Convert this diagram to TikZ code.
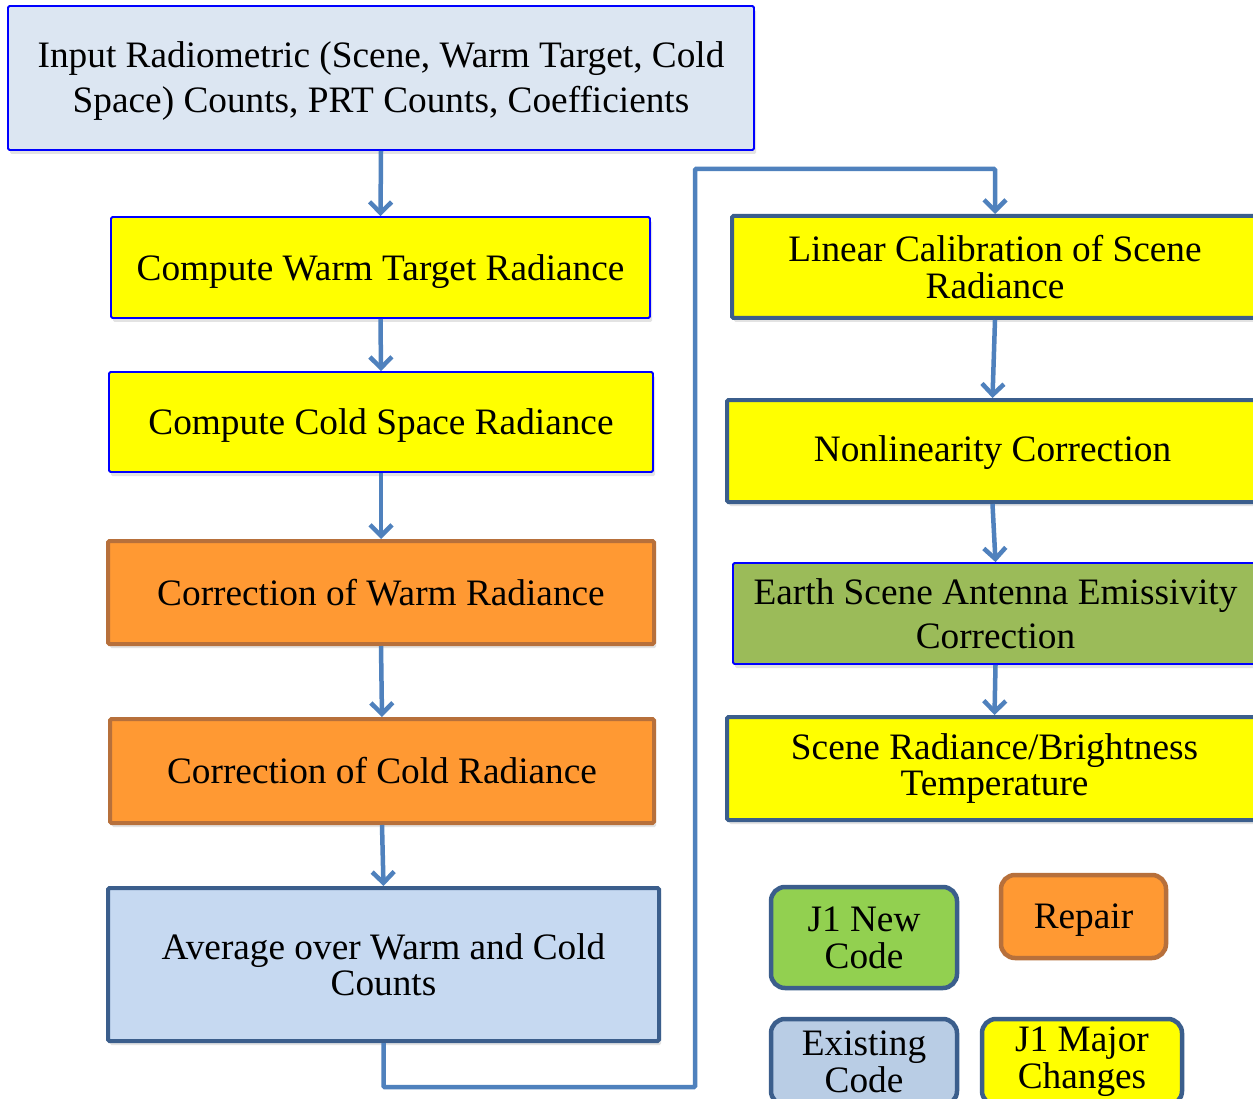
\documentclass[tikz,border=0pt]{standalone}
\usepackage{fontspec}
\setmainfont{Liberation Serif}
\usetikzlibrary{arrows.meta,shadows}
\definecolor{inblue}{HTML}{DCE6F2}
\definecolor{yel}{HTML}{FFFF00}
\definecolor{org}{HTML}{FF9933}
\definecolor{orgb}{HTML}{B7703B}
\definecolor{avgf}{HTML}{C6D9F1}
\definecolor{darkb}{HTML}{3B5E8C}
\definecolor{earthg}{HTML}{9BBB59}
\definecolor{legg}{HTML}{92D050}
\definecolor{exf}{HTML}{B9CDE5}
\definecolor{arr}{HTML}{4F81BD}
\newcommand{\lowr}[1]{\raisebox{-4pt}[\height][\depth]{#1}}
\tikzset{
  box/.style={rectangle, rounded corners=1.5pt, align=center, inner sep=0pt,
    font=\fontsize{37.3}{36.5}\selectfont,
    drop shadow={shadow xshift=2pt, shadow yshift=-4pt, opacity=0.22}},
  thinblue/.style={box, draw=blue, line width=1.8pt},
  thickdark/.style={box, draw=darkb, line width=4pt},
  thickorg/.style={box, draw=orgb, line width=4pt, fill=org},
  legbox/.style={rectangle, rounded corners=14pt, align=center, inner sep=0pt,
    font=\fontsize{37.3}{37}\selectfont, line width=4.5pt},
  flow/.style={draw=arr, line width=4.5pt, -{Straight Barb[length=11pt,width=22pt]}},
}
\begin{document}
\begin{tikzpicture}[x=1pt,y=-1pt]
\useasboundingbox (0,0) rectangle (1253,1099);
\clip (0,0) rectangle (1253,1099);
\fill[white] (0,0) rectangle (1253,1099);

% left column
\node[thinblue, fill=inblue, minimum width=746pt, minimum height=144pt,
  font=\fontsize{37.3}{45}\selectfont] (in) at (381,78)
  {\rule{0pt}{32pt}Input Radiometric (Scene, Warm Target, Cold\\Space) Counts, PRT Counts, Coefficients};
\node[thinblue, fill=yel, minimum width=539pt, minimum height=101pt] (cw) at (380.5,267.5)
  {\lowr{Compute Warm Target Radiance}};
\node[thinblue, fill=yel, minimum width=544pt, minimum height=100pt] (cc) at (381,422)
  {\lowr{Compute Cold Space Radiance}};
\node[thickorg, minimum width=546pt, minimum height=103pt] (corw) at (381,592.5)
  {Correction of Warm Radiance};
\node[thickorg, minimum width=544pt, minimum height=104pt] (corc) at (382,771)
  {Correction of Cold Radiance};
\node[thickdark, fill=avgf, minimum width=551pt, minimum height=153pt] (avg) at (383.5,964.5)
  {Average over Warm and Cold\\Counts};

% right column
\node[thickdark, fill=yel, minimum width=526pt, minimum height=102pt] (lin) at (995,267)
  {Linear Calibration of Scene\\Radiance};
\node[thickdark, fill=yel, minimum width=531pt, minimum height=102pt] (non) at (992.5,451)
  {\raisebox{-2pt}[\height][\depth]{Nonlinearity Correction}};
\node[thinblue, fill=earthg, minimum width=525pt, minimum height=101pt,
  font=\fontsize{37.3}{44}\selectfont] (ear) at (995.5,613.5)
  {Earth Scene Antenna Emissivity\\Correction};
\node[thickdark, fill=yel, minimum width=535pt, minimum height=103pt] (srb) at (994.5,768.5)
  {Scene Radiance/Brightness\\Temperature};

% legend
\node[legbox, draw=darkb, fill=legg, minimum width=186pt, minimum height=101pt] (l1) at (864,937.5)
  {J1 New\\Code};
\node[legbox, draw=orgb, fill=org, minimum width=165pt, minimum height=83pt] (l2) at (1083.5,916.5)
  {\lowr{Repair}};
\node[legbox, draw=darkb, fill=exf, minimum width=186pt, minimum height=86pt] (l3) at (864,1062)
  {Existing\\Code};
\node[legbox, draw=darkb, fill=yel, minimum width=200pt, minimum height=86pt] (l4) at (1082,1062)
  {J1 Major\\Changes};

% connectors
\draw[flow] (in.south) -- (cw.north);
\draw[flow] (cw.south) -- (cc.north);
\draw[flow] (cc.south) -- (corw.north);
\draw[flow] (corw.south) -- (corc.north);
\draw[flow] (corc.south) -- (avg.north);
\coordinate (b1) at (695,1087);
\coordinate (t1) at (695,169);
\draw[flow, rounded corners=1pt] (avg.south) |- (b1) -- (t1) -| (lin.north);
\draw[flow] (lin.south) -- (non.north);
\draw[flow] (non.south) -- (ear.north);
\draw[flow] (ear.south) -- (srb.north);
\end{tikzpicture}
\end{document}
